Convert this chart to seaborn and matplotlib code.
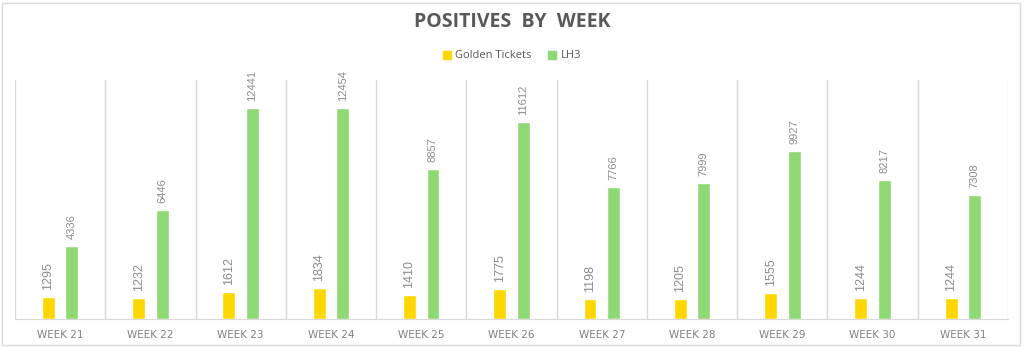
import pandas as pd
import numpy as np
import matplotlib
matplotlib.use('Agg')
import matplotlib.pyplot as plt
import seaborn as sns
from matplotlib.patches import Rectangle

# data
weeks = ['WEEK 21', 'WEEK 22', 'WEEK 23', 'WEEK 24', 'WEEK 25', 'WEEK 26',
         'WEEK 27', 'WEEK 28', 'WEEK 29', 'WEEK 30', 'WEEK 31']
golden_tickets = [1295, 1232, 1612, 1834, 1410, 1775, 1198, 1205, 1555, 1244, 1244]
lh3 = [4336, 6446, 12441, 12454, 8857, 11612, 7766, 7999, 9927, 8217, 7308]
series = ['Golden Tickets', 'LH3']
colors = ['#FFD700', '#8ED973']

df = pd.DataFrame({'week': weeks * 2,
                   'series': [series[0]] * len(weeks) + [series[1]] * len(weeks),
                   'value': golden_tickets + lh3})

sns.set_style('white')
plt.rcParams['font.family'] = ['Open Sans', 'DejaVu Sans']

fig = plt.figure(figsize=(10.24, 3.48), dpi=100)
ax = fig.add_axes([15 / 1024, 1 - 319 / 348, 993 / 1024, 239 / 348])

sns.barplot(data=df, x='week', y='value', hue='series', palette=colors,
            width=0.52, gap=0.45, ax=ax, legend=False, saturation=1)

# value labels
gray = '#8c8c8c'
for cont, fs in zip(ax.containers, [9, 8]):
    ax.bar_label(cont, rotation=90, padding=5, color=gray, fontsize=fs,
                 family='Liberation Sans')

ax.set_xlim(-0.5, len(weeks) - 0.5)
ax.set_ylim(0, 14100)
ax.set_xlabel('')
ax.set_ylabel('')
ax.set_yticks([])
for i in range(len(weeks) + 1):
    ax.axvline(i - 0.5, color='#d9d9d9', lw=1, zorder=0)
for s in ['top', 'right', 'left']:
    ax.spines[s].set_visible(False)
ax.spines['bottom'].set_color('#d9d9d9')
ax.tick_params(axis='x', length=0, pad=8, labelsize=7.5, labelcolor='#808080')
for lbl in ax.get_xticklabels():
    lbl.set_family('DejaVu Sans')

# title and legend
fig.text(0.5, 1 - 22 / 348, 'POSITIVES  BY  WEEK', ha='center', va='center',
         fontsize=14, fontweight='bold', color='#595959')
handles = [Rectangle((0, 0), 1, 1, color=c) for c in colors]
fig.legend(handles, series, loc='center', bbox_to_anchor=(0.5, 1 - 56 / 348),
           ncol=2, frameon=False, fontsize=8, labelcolor='#595959',
           handlelength=0.7, handleheight=0.7, handletextpad=0.4, columnspacing=1.5)

# outer border
fig.patches.append(Rectangle((2 / 1024, 3 / 348), 1018 / 1024, 342 / 348,
                             transform=fig.transFigure, fill=False,
                             edgecolor='#d9d9d9', lw=1))

fig.savefig('out.png', dpi=100)
